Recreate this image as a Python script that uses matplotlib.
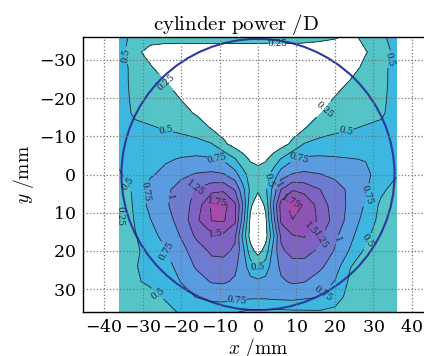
import numpy as np
import matplotlib
matplotlib.use('Agg')
import matplotlib.pyplot as plt
from matplotlib.patches import Circle

plt.rcParams['mathtext.fontset'] = 'cm'
plt.rcParams['font.family'] = 'serif'
plt.rcParams['axes.formatter.use_mathtext'] = True

# sample positions of the cylinder map (mm)
x_mm = [-36, -32, -28, -24, -20, -16, -12, -9, -6, -4, -2, 0, 2, 4, 6, 9, 12, 16, 20, 24, 28, 32, 36]
y_mm = [-36, -32, -28, -24, -20, -16, -12, -8, -4, 0, 4, 8, 12, 16, 20, 24, 28, 32, 36]

# cylinder power (D), one row per y position
cyl = [
    [0.60, 0.42, 0.33, 0.33, 0.33, 0.33, 0.33, 0.33, 0.33, 0.33, 0.33, 0.33, 0.33, 0.33, 0.33, 0.33, 0.32, 0.30, 0.27, 0.20, 0.30, 0.45, 0.60],
    [0.60, 0.30, 0.18, 0.14, 0.14, 0.14, 0.14, 0.14, 0.14, 0.14, 0.14, 0.14, 0.14, 0.14, 0.14, 0.14, 0.14, 0.13, 0.12, 0.14, 0.24, 0.32, 0.60],
    [0.60, 0.42, 0.27, 0.15, 0.10, 0.08, 0.07, 0.06, 0.06, 0.06, 0.06, 0.06, 0.06, 0.06, 0.06, 0.06, 0.07, 0.08, 0.10, 0.17, 0.30, 0.42, 0.60],
    [0.58, 0.44, 0.36, 0.26, 0.15, 0.10, 0.07, 0.06, 0.05, 0.05, 0.05, 0.05, 0.05, 0.05, 0.05, 0.06, 0.07, 0.10, 0.17, 0.27, 0.36, 0.44, 0.58],
    [0.57, 0.46, 0.40, 0.33, 0.24, 0.15, 0.10, 0.07, 0.05, 0.05, 0.05, 0.05, 0.05, 0.05, 0.05, 0.07, 0.10, 0.16, 0.26, 0.33, 0.40, 0.46, 0.57],
    [0.56, 0.48, 0.44, 0.38, 0.32, 0.23, 0.15, 0.10, 0.07, 0.06, 0.06, 0.06, 0.06, 0.06, 0.07, 0.10, 0.15, 0.24, 0.32, 0.38, 0.44, 0.48, 0.56],
    [0.56, 0.53, 0.52, 0.49, 0.45, 0.38, 0.24, 0.15, 0.10, 0.08, 0.07, 0.07, 0.07, 0.08, 0.10, 0.15, 0.24, 0.38, 0.45, 0.49, 0.52, 0.53, 0.56],
    [0.55, 0.56, 0.58, 0.60, 0.60, 0.58, 0.51, 0.30, 0.15, 0.10, 0.08, 0.08, 0.08, 0.10, 0.15, 0.30, 0.51, 0.58, 0.60, 0.60, 0.58, 0.56, 0.55],
    [0.52, 0.58, 0.65, 0.72, 0.77, 0.80, 0.78, 0.72, 0.52, 0.35, 0.22, 0.18, 0.22, 0.35, 0.52, 0.72, 0.80, 0.80, 0.78, 0.76, 0.74, 0.62, 0.55],
    [0.49, 0.56, 0.72, 0.82, 0.95, 1.02, 1.05, 1.02, 0.85, 0.60, 0.40, 0.35, 0.40, 0.60, 0.88, 1.02, 1.05, 1.01, 0.95, 0.85, 0.80, 0.65, 0.52],
    [0.35, 0.55, 0.85, 0.95, 1.10, 1.28, 1.42, 1.45, 1.24, 0.85, 0.45, 0.28, 0.45, 0.85, 1.26, 1.48, 1.42, 1.26, 1.10, 0.95, 0.78, 0.55, 0.40],
    [0.26, 0.55, 0.82, 0.97, 1.12, 1.35, 1.80, 1.85, 1.55, 1.02, 0.30, 0.08, 0.30, 1.02, 1.60, 1.90, 1.72, 1.40, 1.12, 0.95, 0.72, 0.45, 0.35],
    [0.24, 0.52, 0.74, 0.92, 1.08, 1.45, 1.76, 1.78, 1.55, 0.90, 0.20, 0.04, 0.20, 0.90, 1.55, 1.74, 1.70, 1.45, 1.15, 0.90, 0.65, 0.42, 0.35],
    [0.28, 0.48, 0.68, 0.82, 1.02, 1.30, 1.45, 1.45, 1.30, 0.70, 0.15, 0.03, 0.15, 0.70, 1.30, 1.49, 1.52, 1.30, 1.05, 0.82, 0.55, 0.38, 0.33],
    [0.30, 0.45, 0.60, 0.74, 0.92, 1.12, 1.30, 1.32, 1.20, 0.85, 0.35, 0.15, 0.35, 0.85, 1.20, 1.35, 1.35, 1.20, 0.98, 0.72, 0.45, 0.35, 0.32],
    [0.32, 0.49, 0.55, 0.66, 0.85, 1.03, 1.15, 1.15, 1.05, 0.88, 0.62, 0.48, 0.62, 0.88, 1.05, 1.15, 1.15, 1.05, 0.88, 0.51, 0.40, 0.35, 0.33],
    [0.35, 0.48, 0.53, 0.60, 0.76, 0.90, 1.02, 1.03, 0.97, 0.90, 0.82, 0.80, 0.82, 0.90, 0.97, 1.03, 1.01, 0.90, 0.74, 0.45, 0.38, 0.36, 0.35],
    [0.30, 0.38, 0.45, 0.52, 0.65, 0.76, 0.82, 0.84, 0.83, 0.82, 0.80, 0.80, 0.80, 0.82, 0.83, 0.84, 0.80, 0.76, 0.60, 0.42, 0.36, 0.38, 0.40],
    [0.30, 0.33, 0.38, 0.45, 0.52, 0.58, 0.60, 0.58, 0.52, 0.48, 0.45, 0.44, 0.44, 0.44, 0.44, 0.45, 0.46, 0.47, 0.45, 0.38, 0.35, 0.37, 0.40],
]

levels = [0, 0.25, 0.5, 0.75, 1.0, 1.25, 1.5, 1.75, 2.0]
fill_colors = ['#ffffff', '#55c4c7', '#3db7e0', '#5b9ce0', '#6e7bd0',
               '#7e63c3', '#8d53b6', '#a848b0']

# where the contour values get written
label_spots = [
    (-35, -31), (34.8, -30), (5, -33.5), (-24, -24), (18, -16),
    (-24, -11), (23, -10.5), (-11, -3), (11, -3), (1, 1),
    (-34.5, 3), (-30, 4.5), (-23, 6), (-16, 4), (-10.5, 9),
    (-11, 15.5), (-36, 11), (-23.5, 20), (-26, 31),
    (5.5, 3), (9, 8), (13, 13.5), (16.8, 17.5), (20.5, 17),
    (28.5, 5.5), (28.5, 17.5), (17, 31), (-5.5, 33), (0, 24),
]

lens_radius = 35.5

fig = plt.figure(figsize=(4.24, 3.56), dpi=100)
# right edge of the box runs past the figure edge
ax = fig.add_axes([83 / 424, 44 / 356, 350 / 424, 275 / 356])

xx, yy = np.meshgrid(x_mm, y_mm)
zz = np.array(cyl)

ax.contourf(xx, yy, zz, levels=levels, colors=fill_colors)
cl = ax.contour(xx, yy, zz, levels=levels[1:-1], colors='#1f2a38', linewidths=0.6)
ax.clabel(cl, fmt='%g', fontsize=6.5, inline=True, inline_spacing=2,
          manual=label_spots)

ax.add_patch(Circle((0, 0), lens_radius, fill=False, edgecolor='#2b3a9e', linewidth=1.5))

ax.set_xlim(-45.5, 45.5)
ax.set_ylim(36, -36)
ax.set_xticks(range(-40, 41, 10))
ax.set_yticks(range(-30, 31, 10))
ax.tick_params(labelsize=12.5, direction='in', length=0, pad=5)
ax.grid(True, linestyle=':', color='#777777', linewidth=0.9)
ax.set_axisbelow(False)
for s in ax.spines.values():
    s.set_linewidth(1.0)

ax.set_title(r'$\mathrm{cylinder\ power\ /D}$', fontsize=15, pad=4, x=0.437)
ax.set_xlabel(r'$x\ /\mathrm{mm}$', fontsize=14, labelpad=0)
ax.set_ylabel(r'$y\ /\mathrm{mm}$', fontsize=14, labelpad=2)

fig.savefig('out.png', dpi=100)
